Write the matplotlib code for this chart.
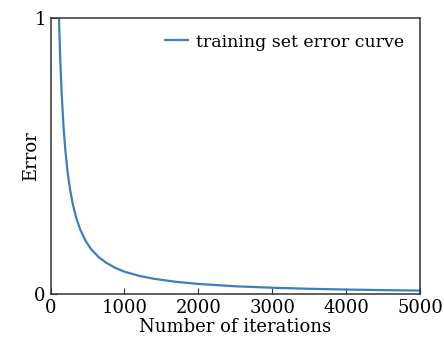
import numpy as np
import matplotlib.pyplot as plt

# error curve
iters = [100, 113, 130, 150, 175, 200, 230, 260, 300, 350, 400, 475, 550, 650, 750, 875,
         1000, 1200, 1400, 1700, 2000, 2500, 3000, 3500, 4000, 4500, 5000]
error = [1.15, 1.00, 0.852, 0.723, 0.605, 0.519, 0.442, 0.384, 0.326, 0.273, 0.234, 0.192,
         0.162, 0.134, 0.114, 0.095, 0.081, 0.066, 0.0555, 0.0444, 0.0368, 0.0284, 0.0231,
         0.0193, 0.0166, 0.0145, 0.0128]

xticks = [0, 1000, 2000, 3000, 4000, 5000]
yticks = [0, 1]

plt.rcParams['font.family'] = ['DejaVu Serif']

fig = plt.figure(figsize=(4.44, 3.44), dpi=100)
ax = fig.add_axes([0.114, 0.145, 0.832, 0.803])

ax.plot(iters, error, color='#3b80be', lw=1.6, label='training set error curve')

ax.set_xlim(0, 5000)
ax.set_ylim(0, 1)
ax.set_xticks(xticks)
ax.set_yticks(yticks)
ax.tick_params(direction='in', length=4, labelsize=13, color='#333333')
for s in ax.spines.values():
    s.set_color('#333333')
    s.set_linewidth(1.1)

ax.set_xlabel('Number of iterations', fontsize=13, labelpad=1)
ax.set_ylabel('Error', fontsize=13, labelpad=-4)

ax.legend(loc='upper right', frameon=False, fontsize=12.5, handlelength=1.3, handletextpad=0.5)

fig.savefig('out.png', dpi=100)
